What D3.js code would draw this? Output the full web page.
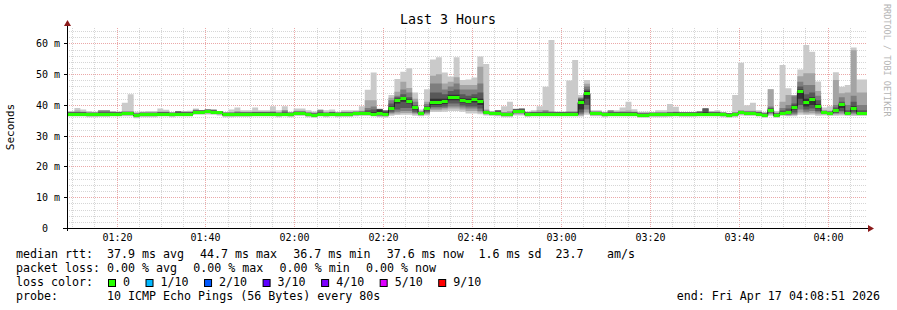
<!DOCTYPE html>
<html><head><meta charset="utf-8">
<script src="https://cdn.jsdelivr.net/npm/d3@7"></script>
<style>
html,body{margin:0;padding:0;background:#fff;}
svg{display:block;font-family:"DejaVu Sans Mono",monospace;}
text{white-space:pre;}
</style></head><body>
<svg id="c" width="897" height="310"></svg>
<script>
// ---- data (ms), one value per 80 s step ----
const median = [37.2,37.2,37.2,37.0,37.0,37.1,37.1,37.2,37.2,37.3,
37.3,36.7,37.0,37.0,37.0,37.2,37.2,37.0,37.2,37.2,
37.2,37.8,37.8,37.9,37.8,37.6,37.0,37.0,37.1,37.1,
37.1,37.2,37.2,37.2,37.2,37.0,37.2,37.0,37.4,37.4,
37.0,36.8,37.2,37.0,37.2,37.0,37.1,37.1,37.3,37.4,
37.4,37.2,37.3,36.9,39.1,41.6,42.1,41.3,39.2,37.3,
38.9,41.0,41.0,41.2,42.7,42.7,41.6,41.3,41.8,41.3,
37.6,37.4,37.3,37.0,37.0,38.0,38.0,37.1,37.2,37.2,
37.2,37.2,37.2,37.2,37.2,37.2,41.0,43.9,37.3,37.3,
37.0,37.2,37.2,37.2,37.2,37.2,36.8,36.8,37.0,37.0,
37.0,37.1,37.2,37.1,37.1,37.1,37.2,37.2,37.2,37.2,
37.0,36.8,37.0,37.6,37.4,37.4,37.2,36.8,38.3,36.8,
37.4,37.6,39.3,44.5,41.0,41.9,39.6,37.6,37.4,38.3,
40.3,37.4,39.1,37.4,37.4];
const ping10 = [38.0,39.0,38.5,38.0,37.8,38.3,38.3,38.0,37.8,40.7,
43.5,37.8,37.9,38.0,38.0,38.8,38.4,37.6,38.0,38.0,
38.1,38.8,38.3,38.6,38.5,38.0,37.6,38.5,39.2,38.3,
38.3,39.2,38.3,38.3,39.6,38.3,39.6,37.8,38.8,38.8,
38.3,37.9,38.5,38.3,38.5,37.8,38.3,38.3,38.3,39.6,
44.9,50.5,38.8,38.3,43.2,48.4,50.8,51.9,44.0,38.5,
45.1,54.8,55.5,50.5,49.2,55.5,48.1,48.3,48.9,55.7,
53.3,37.9,38.3,39.6,41.0,38.8,38.9,37.8,38.3,39.6,
45.9,61.1,37.8,37.8,47.9,54.6,43.2,48.1,38.3,38.3,
37.8,38.3,38.3,39.2,41.0,38.6,37.8,37.8,37.5,38.3,
38.3,40.3,39.4,37.6,37.6,37.6,37.9,38.9,38.0,38.3,
37.6,37.4,43.2,53.7,39.9,40.7,38.3,37.6,45.1,38.0,
53.0,45.4,43.2,51.5,59.5,57.3,47.6,39.2,39.6,50.6,
45.9,46.5,58.7,48.3,48.3];
const ping9 = [37.8,38.2,37.9,37.7,37.7,38.2,38.2,37.9,37.8,38.0,
38.0,37.4,37.7,37.7,37.7,37.9,37.9,37.5,38.0,37.9,
37.9,38.5,38.3,38.5,38.4,38.0,37.6,37.7,38.0,37.8,
37.8,37.9,37.9,37.9,38.0,37.7,38.3,37.7,38.1,38.1,
37.7,37.5,38.4,37.7,37.9,37.7,37.8,37.8,38.0,38.1,
41.5,41.5,38.7,38.2,42.3,44.3,47.5,45.5,42.0,38.0,
41.0,49.5,50.0,47.0,47.5,49.0,46.5,46.5,46.5,52.4,
38.5,37.9,38.3,37.7,38.0,38.7,38.8,37.8,37.9,38.3,
38.3,38.0,37.8,37.8,38.0,38.0,42.5,46.9,38.0,38.0,
37.7,38.2,37.9,38.0,38.2,37.9,37.5,37.5,37.5,37.7,
37.7,37.8,37.9,37.6,37.6,37.6,37.9,38.9,37.9,37.9,
37.6,37.4,37.7,38.3,38.1,38.1,37.9,37.5,45.1,37.5,
41.0,43.2,43.2,49.3,50.3,50.3,44.5,38.3,38.1,48.1,
43.8,44.0,57.8,44.0,44.0];
const ping8 = [37.7,37.7,37.7,37.5,37.5,38.2,38.2,37.7,37.7,37.8,
37.8,37.2,37.5,37.5,37.5,37.7,37.7,37.5,37.9,37.7,
37.7,38.3,38.3,38.5,38.4,38.0,37.5,37.5,37.6,37.6,
37.6,37.7,37.7,37.7,37.7,37.5,38.2,37.5,37.9,37.9,
37.5,37.3,38.3,37.5,37.7,37.5,37.6,37.6,37.8,37.9,
39.0,39.5,38.7,38.2,41.5,43.0,45.0,44.0,41.0,37.8,
40.3,47.0,47.0,45.0,46.0,47.0,45.0,45.0,45.0,47.0,
38.2,37.8,38.2,37.5,37.5,38.7,38.8,37.6,37.7,37.7,
38.2,37.7,37.7,37.7,37.7,37.7,42.2,46.0,37.8,37.8,
37.5,38.2,37.7,37.7,37.7,37.7,37.3,37.3,37.5,37.5,
37.5,37.6,37.7,37.6,37.6,37.6,37.9,38.8,37.7,37.7,
37.5,37.3,37.5,38.1,37.9,37.9,37.7,37.3,39.5,37.3,
39.0,40.0,42.8,47.5,46.5,46.5,43.0,38.1,37.9,40.0,
42.5,40.0,43.0,40.0,40.0];
const ping7 = [37.6,37.6,37.6,37.4,37.4,37.6,37.6,37.6,37.6,37.7,
37.7,37.1,37.4,37.4,37.4,37.6,37.6,37.4,37.9,37.6,
37.6,38.2,38.2,38.4,38.3,37.9,37.4,37.4,37.5,37.5,
37.5,37.6,37.6,37.6,37.6,37.4,37.6,37.4,37.8,37.8,
37.4,37.2,37.6,37.4,37.6,37.4,37.5,37.5,37.7,37.8,
38.3,38.5,38.6,38.1,40.5,42.5,43.5,42.5,40.0,37.7,
39.6,44.0,44.0,43.5,44.5,45.0,43.5,43.0,43.5,44.0,
38.0,37.7,38.2,37.4,37.4,38.6,38.7,37.5,37.6,37.6,
37.6,37.6,37.6,37.6,37.6,37.6,42.0,45.0,37.7,37.7,
37.4,37.6,37.6,37.6,37.6,37.6,37.2,37.2,37.4,37.4,
37.4,37.5,37.6,37.5,37.5,37.5,37.8,38.8,37.6,37.6,
37.4,37.2,37.4,38.0,37.8,37.8,37.6,37.2,39.0,37.2,
38.2,38.8,40.5,46.0,43.5,44.0,41.5,38.0,37.8,39.2,
41.0,38.3,41.0,38.3,38.3];
const ping6 = [37.4,37.4,37.4,37.2,37.2,37.3,37.3,37.4,37.4,37.5,
37.5,36.9,37.2,37.2,37.2,37.4,37.4,37.2,37.4,37.4,
37.4,38.0,38.0,38.1,38.0,37.8,37.2,37.2,37.3,37.3,
37.3,37.4,37.4,37.4,37.4,37.2,37.4,37.2,37.6,37.6,
37.2,37.0,37.4,37.2,37.4,37.2,37.3,37.3,37.5,37.6,
37.7,37.6,38.5,37.5,39.5,42.0,42.5,41.8,39.6,37.5,
39.2,42.0,42.0,42.0,43.3,43.3,42.2,42.0,42.4,42.0,
37.8,37.6,37.5,37.2,37.2,38.2,38.2,37.3,37.4,37.4,
37.4,37.4,37.4,37.4,37.4,37.4,41.5,44.5,37.5,37.5,
37.2,37.4,37.4,37.4,37.4,37.4,37.0,37.0,37.2,37.2,
37.2,37.3,37.4,37.3,37.3,37.3,37.4,37.6,37.4,37.4,
37.2,37.0,37.2,37.8,37.6,37.6,37.4,37.0,38.6,37.0,
37.7,38.0,39.8,45.0,42.0,42.5,40.2,37.8,37.6,38.6,
40.6,37.7,39.6,37.7,37.7];
const ping5 = [37.0,37.0,37.0,36.8,36.8,36.9,36.9,37.0,37.0,37.1,
37.1,36.5,36.8,36.8,36.8,37.0,37.0,36.8,37.0,37.0,
37.0,37.6,37.6,37.7,37.6,37.4,36.8,36.8,36.9,36.9,
36.9,37.0,37.0,37.0,37.0,36.8,37.0,36.8,37.2,37.2,
36.8,36.6,37.0,36.8,37.0,36.8,36.9,36.9,37.1,37.2,
37.2,37.0,36.9,36.7,38.5,40.5,41.0,40.5,38.5,37.1,
38.3,40.0,40.0,40.3,41.5,41.5,40.8,40.5,40.8,40.0,
37.4,37.2,37.1,36.8,36.8,37.8,37.8,36.9,37.0,37.0,
37.0,37.0,37.0,37.0,37.0,37.0,38.5,42.0,37.1,37.1,
36.8,37.0,37.0,37.0,37.0,37.0,36.6,36.6,36.8,36.8,
36.8,36.9,37.0,36.9,36.9,36.9,37.0,37.0,37.0,37.0,
36.8,36.6,36.8,37.4,37.2,37.2,37.0,36.6,38.0,36.6,
37.2,37.3,38.5,42.0,39.5,40.0,38.8,37.4,37.2,37.8,
39.0,37.2,38.3,37.2,37.2];
const ping4 = [36.8,36.8,36.8,36.6,36.6,36.7,36.7,36.8,36.8,36.9,
36.9,36.3,36.6,36.6,36.6,36.8,36.8,36.6,36.8,36.8,
36.8,37.4,37.4,37.5,37.4,37.2,36.6,36.6,36.7,36.7,
36.7,36.8,36.8,36.8,36.8,36.6,36.8,36.6,37.0,37.0,
36.6,36.4,36.8,36.6,36.8,36.6,36.7,36.7,36.9,37.0,
37.0,36.8,36.7,36.5,37.8,38.5,39.0,39.0,37.8,36.9,
37.8,39.3,39.3,39.5,40.5,40.5,39.8,39.5,39.5,38.8,
37.2,37.0,36.9,36.6,36.6,37.5,37.5,36.7,36.8,36.8,
36.8,36.8,36.8,36.8,36.8,36.8,37.5,40.0,36.9,36.9,
36.6,36.8,36.8,36.8,36.8,36.8,36.4,36.4,36.6,36.6,
36.6,36.7,36.8,36.7,36.7,36.7,36.8,36.8,36.8,36.8,
36.6,36.4,36.6,37.2,37.0,37.0,36.8,36.4,37.5,36.4,
37.0,37.0,37.5,40.0,38.5,38.8,38.0,37.2,37.0,37.4,
38.0,37.0,37.6,37.0,37.0];
const ping3 = [36.7,36.7,36.7,36.5,36.5,36.6,36.6,36.7,36.7,36.8,
36.8,36.2,36.5,36.5,36.5,36.7,36.7,36.5,36.7,36.7,
36.7,37.3,37.3,37.4,37.3,37.1,36.5,36.5,36.6,36.6,
36.6,36.7,36.7,36.7,36.7,36.5,36.7,36.5,36.9,36.9,
36.5,36.3,36.7,36.5,36.7,36.5,36.6,36.6,36.8,36.9,
36.9,36.7,36.5,36.4,37.4,37.8,38.0,38.0,37.4,36.8,
37.4,38.8,38.8,39.0,39.5,39.5,39.2,38.8,38.8,38.0,
37.1,36.9,36.8,36.5,36.5,37.3,37.3,36.6,36.7,36.7,
36.7,36.7,36.7,36.7,36.7,36.7,37.0,38.5,36.8,36.8,
36.5,36.7,36.7,36.7,36.7,36.7,36.3,36.3,36.5,36.5,
36.5,36.6,36.7,36.6,36.6,36.6,36.7,36.7,36.7,36.7,
36.5,36.3,36.5,37.1,36.9,36.9,36.7,36.3,37.2,36.3,
36.9,36.8,37.0,38.5,37.8,38.0,37.5,37.1,36.9,37.2,
37.5,36.9,37.2,36.9,36.9];
const ping2 = [36.5,36.5,36.5,36.3,36.3,36.4,36.4,36.5,36.5,36.6,
36.6,36.0,36.3,36.3,36.3,36.5,36.5,36.3,36.5,36.5,
36.5,37.1,37.1,37.2,37.1,36.9,36.3,36.3,36.4,36.4,
36.4,36.5,36.5,36.5,36.5,36.3,36.5,36.3,36.7,36.7,
36.3,36.1,36.5,36.3,36.5,36.3,36.4,36.4,36.6,36.7,
36.7,36.5,36.3,36.2,37.0,37.2,37.4,37.4,37.0,36.6,
37.0,38.3,38.3,38.5,38.8,38.8,38.5,38.0,38.0,37.5,
36.9,36.7,36.6,36.3,36.3,37.0,37.0,36.4,36.5,36.5,
36.5,36.5,36.5,36.5,36.5,36.5,36.6,37.5,36.6,36.6,
36.3,36.5,36.5,36.5,36.5,36.5,36.1,36.1,36.3,36.3,
36.3,36.4,36.5,36.4,36.4,36.4,36.5,36.5,36.5,36.5,
36.3,36.1,36.3,36.9,36.7,36.7,36.5,36.1,36.9,36.1,
36.7,36.6,36.7,37.5,37.2,37.3,37.0,36.9,36.7,36.9,
37.0,36.7,36.8,36.7,36.7];
const ping1 = [36.2,36.2,36.2,36.0,36.0,36.1,36.1,36.2,36.2,36.3,
36.3,35.7,36.0,36.0,36.0,36.2,36.2,36.0,36.2,36.2,
36.2,36.8,36.8,36.9,36.8,36.6,36.0,36.0,36.1,36.1,
36.1,36.2,36.2,36.2,36.2,36.0,36.2,36.0,36.4,36.4,
36.0,35.8,36.2,36.0,36.2,36.0,36.1,36.1,36.3,36.4,
36.4,36.2,36.0,35.9,36.5,36.7,36.8,36.8,36.5,36.3,
36.6,37.7,37.7,37.8,38.0,38.0,37.8,37.2,37.2,37.0,
36.6,36.4,36.3,36.0,36.0,36.6,36.6,36.1,36.2,36.2,
36.2,36.2,36.2,36.2,36.2,36.2,36.2,36.8,36.3,36.3,
36.0,36.2,36.2,36.2,36.2,36.2,35.8,35.8,36.0,36.0,
36.0,36.1,36.2,36.1,36.1,36.1,36.2,36.2,36.2,36.2,
36.0,35.8,36.0,36.6,36.4,36.4,36.2,35.8,36.5,35.8,
36.4,36.3,36.3,36.8,36.7,36.8,36.5,36.6,36.4,36.5,
36.6,36.4,36.4,36.4,36.4];

const yTicks = [0,10,20,30,40,50,60];
const yTickLabels = [" 0","10 m","20 m","30 m","40 m","50 m","60 m"];
const title = "Last 3 Hours";
const yTitle = "Seconds";
const endTime = new Date(Date.UTC(2026,3,17,4,8,51));
const spanHours = 3;
const stepSeconds = 80, firstStepOffset = 20;
const rttLabel = "median rtt:";
const rttStats = ["37.9 ms avg","44.7 ms max","36.7 ms min","37.6 ms now","1.6 ms sd","23.7","am/s"];
const lossLabel = "packet loss:";
const lossStats = ["0.00 % avg","0.00 % max","0.00 % min","0.00 % now"];
const colorLabel = "loss color:";
const lossLabels = ["0","1/10","2/10","3/10","4/10","5/10","9/10"];
const lossColors = ["#26ff00","#00b8ff","#0059ff","#5e00ff","#7e00ff","#dd00ff","#ff0000"];
const probeLabel = "probe:";
const probeText = "10 ICMP Echo Pings (56 Bytes) every 80s";
const endLabel = "end: Fri Apr 17 04:08:51 2026";
const watermark = "RRDTOOL / TOBI OETIKER";

// ---- drawing ----
const svg = d3.select("#c");
svg.append("rect").attr("width",897).attr("height",310).attr("fill","#fff");
const L=67, R=867, T=28, B=228;
const startTime = new Date(+endTime - spanHours*3600e3);
const x = d3.scaleUtc().domain([startTime,endTime]).range([L,R]);
const y = d3.scaleLinear().domain([0,65]).range([B,T]);

// grid
const g = svg.append("g");
const minorT = d3.utcMinute.every(5).range(startTime,endTime);
minorT.forEach(t=>{
  const major = t.getUTCMinutes()%20===0;
  const xx = Math.round(x(t))+0.5;
  g.append("line").attr("x1",xx).attr("x2",xx).attr("y1",T).attr("y2",B)
   .attr("stroke",major?"#eba8a8":"#d6d6d6").attr("stroke-dasharray","1,1");
});
d3.range(0,65,2).forEach(v=>{
  if(v===0) return;
  const major = v%10===0;
  const yy = Math.round(y(v))+0.5;
  g.append("line").attr("x1",L).attr("x2",R).attr("y1",yy).attr("y2",yy)
   .attr("stroke",major?"#eba8a8":"#d6d6d6").attr("stroke-dasharray","1,1");
});

// data rows
const N = median.length;
const rows = d3.range(N).map(i=>({
  t: i===0 ? startTime : new Date(+startTime + (firstStepOffset+i*stepSeconds)*1000),
  med: median[i], p:[ping1[i],ping2[i],ping3[i],ping4[i],ping5[i],ping6[i],ping7[i],ping8[i],ping9[i],ping10[i]]
}));
rows.push(Object.assign({}, rows[N-1], {t:endTime}));

svg.append("clipPath").attr("id","pc").append("rect").attr("x",L).attr("y",T-5).attr("width",R-L).attr("height",B-T+5);
const plot = svg.append("g").attr("clip-path","url(#pc)");
const shades = ["#cacaca","#a4a4a4","#7e7e7e","#585858","#323232"];
shades.forEach((c,k)=>{
  const area = d3.area().curve(d3.curveStepAfter)
    .x(d=>x(d.t)).y0(d=>y(d.p[k])).y1(d=>y(d.p[9-k]));
  plot.append("path").datum(rows).attr("d",area).attr("fill",c);
});
const medLine = d3.line().curve(d3.curveStepAfter).x(d=>x(d.t)).y(d=>Math.round(y(d.med))+0.5);
plot.append("path").datum(rows).attr("d",medLine).attr("fill","none").attr("stroke","#202020").attr("stroke-width",1);
const band = d3.area().curve(d3.curveStepAfter).x(d=>x(d.t))
  .y0(d=>Math.round(y(d.med))+2).y1(d=>Math.round(y(d.med))-1);
plot.append("path").datum(rows).attr("d",band).attr("fill",lossColors[0]);

// axes
svg.append("line").attr("x1",63).attr("x2",869).attr("y1",B+0.5).attr("y2",B+0.5).attr("stroke","#000");
svg.append("line").attr("x1",L+0.5).attr("x2",L+0.5).attr("y1",24).attr("y2",B+3).attr("stroke","#000");
svg.append("path").attr("d",`M${L-3},${T-2}L${L+0.5},${T-8}L${L+4},${T-2}Z`).attr("fill","#8b1a1a");
svg.append("path").attr("d",`M868,${B-3}L874,${B+0.5}L868,${B+4}Z`).attr("fill","#8b1a1a");

yTicks.forEach((v,i)=>{
  const yy = Math.round(y(v))+0.5;
  svg.append("line").attr("x1",L-3).attr("x2",L).attr("y1",yy).attr("y2",yy).attr("stroke","#000");
  svg.append("text").attr("x",36).attr("y",yy+3.5).attr("font-size",10).attr("fill","#000").text(yTickLabels[i]);
});
const xLab = d3.utcMinute.every(20).range(startTime,endTime);
const fmt = d3.utcFormat("%H:%M");
xLab.forEach(t=>{
  svg.append("text").attr("x",Math.round(x(t))+0.5).attr("y",241).attr("text-anchor","middle")
    .attr("font-size",10).attr("fill","#000").text(fmt(t));
});

// titles
svg.append("text").attr("x",448).attr("y",24).attr("text-anchor","middle").attr("font-size",13.3).attr("fill","#000").text(title);
svg.append("text").attr("transform","translate(14,127) rotate(-90)").attr("text-anchor","middle").attr("font-size",11).attr("fill","#000").text(yTitle);
svg.append("text").attr("transform","translate(884,4) rotate(90)").attr("font-size",8.5).attr("fill","#b4b4b4").text(watermark);

// legend
const lf = 11.65, cw = 7.01;
const txt = (s,xx,yy)=>svg.append("text").attr("x",xx).attr("y",yy).attr("font-size",lf).attr("fill","#000").text(s);
txt(rttLabel,16,258);
const rttX = [107,200,293.3,386.7,478.5,555.5,607];
rttStats.forEach((s,i)=>txt(s,rttX[i],258));
txt(lossLabel,16,272);
lossStats.forEach((s,i)=>txt(s,107+86.3*i,272));
txt(colorLabel,16,286);
let bx = 108;
lossLabels.forEach((lab,i)=>{
  svg.append("rect").attr("x",bx+0.5).attr("y",279.5).attr("width",7).attr("height",7)
    .attr("fill",lossColors[i]).attr("stroke","#000");
  txt(lab,bx+15,286);
  bx += 15 + cw*lab.length + 15.5;
});
txt(probeLabel,16,300);
txt(probeText,107,300);
svg.append("text").attr("x",880).attr("y",300).attr("text-anchor","end").attr("font-size",lf).attr("fill","#000").text(endLabel);
</script>
</body></html>
